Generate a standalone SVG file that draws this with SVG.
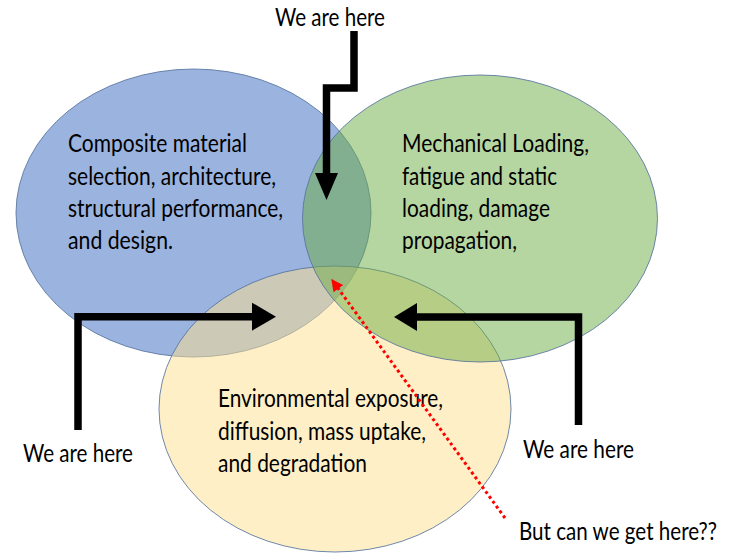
<svg xmlns="http://www.w3.org/2000/svg" width="734" height="553" viewBox="0 0 734 553">
  <style>
    .set { stroke: #56739e; stroke-width: 1; stroke-opacity: 0.85; }
    .txt { font-family: "Lato", "Liberation Sans", sans-serif; font-size: 25px; fill: #000000; }
    .arrow { fill: none; stroke: #000000; stroke-width: 7.5; stroke-linejoin: miter; }
    .head { fill: #000000; }
    .dots { fill: none; stroke: #ff0000; stroke-width: 3; stroke-dasharray: 3 3; }
  </style>
  <defs>
    <marker id="redHead" viewBox="0 0 10 10" refX="9" refY="5" markerWidth="4" markerHeight="4" orient="auto" markerUnits="strokeWidth">
      <path d="M0,0 L10,5 L0,10 Z" fill="#ff0000"/>
    </marker>
  </defs>
  <rect width="734" height="553" fill="#ffffff"/>

  <!-- Three overlapping sets -->
  <g id="set-composite">
    <ellipse class="set" cx="193.5" cy="213" rx="177.5" ry="144" fill="#3f6dc2" fill-opacity="0.52"/>
  </g>
  <g id="set-environment">
    <ellipse class="set" cx="335" cy="409" rx="176" ry="143" fill="#fde08f" fill-opacity="0.5"/>
  </g>
  <g id="set-mechanical">
    <ellipse class="set" cx="480" cy="218.5" rx="177.5" ry="143.5" fill="#6cab44" fill-opacity="0.5"/>
  </g>

  <!-- Set descriptions -->
  <g id="label-composite" class="txt">
    <text x="68" y="152" textLength="179" lengthAdjust="spacingAndGlyphs">Composite material</text>
    <text x="68" y="185" textLength="208" lengthAdjust="spacingAndGlyphs">selection, architecture,</text>
    <text x="68" y="217" textLength="215" lengthAdjust="spacingAndGlyphs">structural performance,</text>
    <text x="68" y="249" textLength="105" lengthAdjust="spacingAndGlyphs">and design.</text>
  </g>
  <g id="label-mechanical" class="txt">
    <text x="402" y="152" textLength="187" lengthAdjust="spacingAndGlyphs">Mechanical Loading,</text>
    <text x="402" y="185" textLength="155" lengthAdjust="spacingAndGlyphs">fatigue and static</text>
    <text x="402" y="217" textLength="148" lengthAdjust="spacingAndGlyphs">loading, damage</text>
    <text x="402" y="249" textLength="115" lengthAdjust="spacingAndGlyphs">propagation,</text>
  </g>
  <g id="label-environment" class="txt">
    <text x="218" y="407" textLength="225" lengthAdjust="spacingAndGlyphs">Environmental exposure,</text>
    <text x="218" y="440" textLength="208" lengthAdjust="spacingAndGlyphs">diffusion, mass uptake,</text>
    <text x="218" y="472" textLength="149" lengthAdjust="spacingAndGlyphs">and degradation</text>
  </g>

  <!-- Position markers -->
  <g id="here-top" class="txt">
    <text x="275" y="26" textLength="110" lengthAdjust="spacingAndGlyphs">We are here</text>
  </g>
  <g id="here-left" class="txt">
    <text x="23" y="462" textLength="110" lengthAdjust="spacingAndGlyphs">We are here</text>
  </g>
  <g id="here-right" class="txt">
    <text x="523" y="458" textLength="111" lengthAdjust="spacingAndGlyphs">We are here</text>
  </g>
  <g id="goal" class="txt">
    <!-- horizontally condensed so the line stays inside the right margin -->
    <text transform="translate(519,540) scale(0.825,1)" x="0" y="0" textLength="240" lengthAdjust="spacingAndGlyphs">But can we get here??</text>
  </g>

  <!-- Connectors -->
  <g id="connectors">
    <path class="arrow" d="M354,31 V88 H326.5 V174"/>
    <path class="head" d="M315,173 L338,173 L326.5,200 Z"/>
    <path class="arrow" d="M78,430 V316.7 H253"/>
    <path class="head" d="M252,302.7 L252,330.7 L276,316.7 Z"/>
    <path class="arrow" d="M578.5,425 V317 H416"/>
    <path class="head" d="M417,303 L417,331 L394,317 Z"/>
    <path class="dots" d="M505,518 L332,280" marker-end="url(#redHead)"/>
  </g>
</svg>
